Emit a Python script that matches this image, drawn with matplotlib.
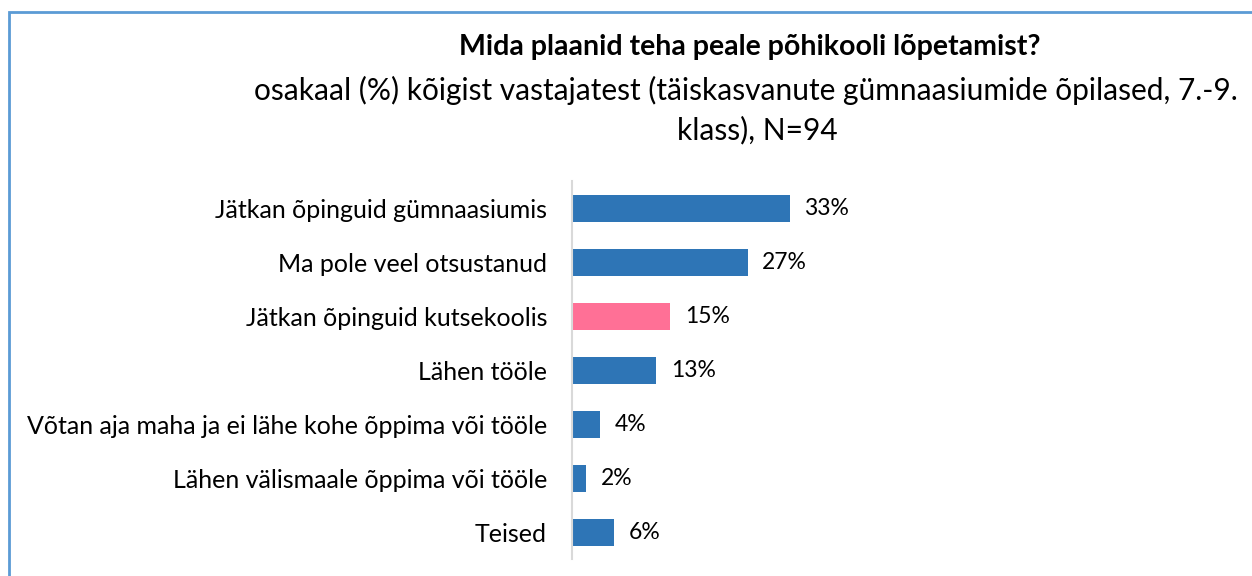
import numpy as np
import matplotlib.pyplot as plt
from matplotlib.patches import Rectangle

plt.rcParams['font.family'] = ['Lato', 'DejaVu Sans']

categories = ['Jätkan õpinguid gümnaasiumis', 'Ma pole veel otsustanud',
              'Jätkan õpinguid kutsekoolis', 'Lähen tööle',
              'Võtan aja maha ja ei lähe kohe õppima või tööle',
              'Lähen välismaale õppima või tööle', 'Teised']
values = [33.0, 26.6, 14.9, 12.8, 4.3, 2.1, 6.4]
labels = ['33%', '27%', '15%', '13%', '4%', '2%', '6%']
colors = ['#2E75B6', '#2E75B6', '#FF7096', '#2E75B6', '#2E75B6', '#2E75B6', '#2E75B6']

fig = plt.figure(figsize=(12.52, 5.76), dpi=100)
ax = fig.add_axes([572/1252, 1 - 559/576, 660/1252, 378/576])

y = np.arange(len(categories))
ax.barh(y, values, height=0.5, color=colors)
for yi, v, lab in zip(y, values, labels):
    ax.text(v + 2.2, yi, lab, va='center', ha='left', fontsize=16.5)

ax.set_xlim(0, 100)
ax.set_ylim(len(categories) - 0.5, -0.5)
ax.set_yticks(y)
ax.set_yticklabels(categories, fontsize=18)
ax.tick_params(axis='y', length=0, pad=18)
ax.set_xticks([])
for s in ['top', 'right', 'bottom']:
    ax.spines[s].set_visible(False)
ax.spines['left'].set_color('#D9D9D9')
ax.spines['left'].set_linewidth(1.5)

fig.text(750/1252, 1 - 47/576, 'Mida plaanid teha peale põhikooli lõpetamist?',
         ha='center', va='center', fontsize=20.5, fontweight='bold')
fig.text(746/1252, 1 - 90/576,
         'osakaal (%) kõigist vastajatest (täiskasvanute gümnaasiumide õpilased, 7.-9.',
         ha='center', va='center', fontsize=21.5)
fig.text(757/1252, 1 - 130/576, 'klass), N=94', ha='center', va='center', fontsize=21.5)

fig.patches.append(Rectangle((9/1252, -0.1), 1.2, 1.1 - 12/576, transform=fig.transFigure,
                             fill=False, edgecolor='#5B9BD5', linewidth=2, clip_on=False))

plt.savefig('out.png')
